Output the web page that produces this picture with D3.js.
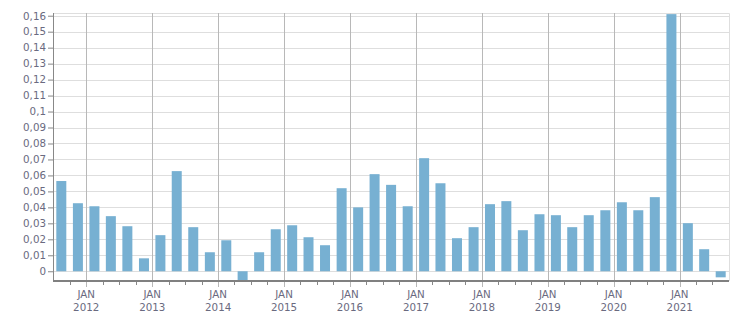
<!DOCTYPE html>
<html lang="en">
<head>
    <meta charset="UTF-8">
    <title>Quarterly bars</title>
    <script src="https://cdn.jsdelivr.net/npm/d3@7/dist/d3.min.js"></script>
    <style>
        body { margin: 0; background: #fff; }
        text { font-family: "DejaVu Sans", sans-serif; font-size: 10.3px; fill: #6a6a80; }
    </style>
</head>
<body>
<script>
    // quarter starts
    const quarters = [
        "2011-07", "2011-10",
        "2012-01", "2012-04", "2012-07", "2012-10",
        "2013-01", "2013-04", "2013-07", "2013-10",
        "2014-01", "2014-04", "2014-07", "2014-10",
        "2015-01", "2015-04", "2015-07", "2015-10",
        "2016-01", "2016-04", "2016-07", "2016-10",
        "2017-01", "2017-04", "2017-07", "2017-10",
        "2018-01", "2018-04", "2018-07", "2018-10",
        "2019-01", "2019-04", "2019-07", "2019-10",
        "2020-01", "2020-04", "2020-07", "2020-10",
        "2021-01", "2021-04", "2021-07"
    ];
    const values = [
        0.0565, 0.0426,
        0.0407, 0.0345, 0.0282, 0.0081,
        0.0226, 0.0627, 0.0276, 0.0119,
        0.0194, -0.0057, 0.0119, 0.0263,
        0.0288, 0.0213, 0.0163, 0.0520,
        0.0400, 0.0608, 0.0541, 0.0407,
        0.0708, 0.0551, 0.0207, 0.0276,
        0.0420, 0.0439, 0.0257, 0.0357,
        0.0351, 0.0276, 0.0351, 0.0382,
        0.0432, 0.0382, 0.0464, 0.1610,
        0.0301, 0.0138, -0.0038
    ];
    const yTicks = [0, 0.01, 0.02, 0.03, 0.04, 0.05, 0.06, 0.07, 0.08,
        0.09, 0.1, 0.11, 0.12, 0.13, 0.14, 0.15, 0.16];
    const years = [2012, 2013, 2014, 2015, 2016, 2017, 2018, 2019, 2020, 2021];

    const width = 751, height = 313;
    const margin = {top: 13, right: 22, bottom: 32, left: 53};
    const parse = d3.timeParse("%Y-%m");

    const svg = d3.select("body").append("svg")
        .attr("width", width)
        .attr("height", height);

    const x = d3.scaleTime()
        .domain([parse("2011-07"), parse("2021-10")])
        .range([margin.left, width - margin.right]);

    const y = d3.scaleLinear()
        .domain([-0.0061, 0.1617])
        .range([height - margin.bottom, margin.top]);

    const fmt = d => String(+d.toFixed(2)).replace(".", ",");

    // horizontal grid
    svg.append("g")
        .selectAll("line")
        .data(yTicks)
        .enter().append("line")
        .attr("x1", margin.left).attr("x2", width - margin.right)
        .attr("y1", d => Math.round(y(d)) + 0.5).attr("y2", d => Math.round(y(d)) + 0.5)
        .attr("stroke", "#dedede");

    // frame top / right
    svg.append("path")
        .attr("d", `M${margin.left},${margin.top + 0.5}H${width - margin.right + 0.5}V${height - margin.bottom}`)
        .attr("fill", "none")
        .attr("stroke", "#dedede");

    // vertical grid at JAN, extending below the axis as major ticks
    svg.append("g")
        .selectAll("line")
        .data(years)
        .enter().append("line")
        .attr("x1", d => Math.round(x(new Date(d, 0, 1))) + 0.5)
        .attr("x2", d => Math.round(x(new Date(d, 0, 1))) + 0.5)
        .attr("y1", margin.top)
        .attr("y2", height - margin.bottom + 6)
        .attr("stroke", "#b8b8b8");

    // bars
    svg.append("g")
        .selectAll("rect")
        .data(quarters.map((q, i) => ({start: parse(q), value: values[i]})))
        .enter().append("rect")
        .attr("x", d => (x(d.start) + x(d3.timeMonth.offset(d.start, 3))) / 2 - 5)
        .attr("width", 10)
        .attr("y", d => y(Math.max(0, d.value)))
        .attr("height", d => Math.abs(y(d.value) - y(0)))
        .attr("fill", "#77b0d2");

    // y axis
    const yAxis = svg.append("g")
        .attr("transform", `translate(${margin.left},0)`)
        .call(d3.axisLeft(y).tickValues(yTicks).tickFormat(fmt).tickSize(5).tickPadding(2));
    yAxis.select(".domain").remove();
    yAxis.selectAll(".tick line").attr("stroke", "#888");
    yAxis.selectAll("text").attr("fill", null);
    yAxis.attr("font-family", null).attr("font-size", null);
    svg.append("line")
        .attr("x1", margin.left + 0.5).attr("x2", margin.left + 0.5)
        .attr("y1", margin.top).attr("y2", height - margin.bottom)
        .attr("stroke", "#888");

    // x axis: minor quarter ticks
    svg.append("g")
        .selectAll("line")
        .data(quarters.slice(1).filter(q => !q.endsWith("-01")))
        .enter().append("line")
        .attr("x1", d => Math.round(x(parse(d))) + 0.5)
        .attr("x2", d => Math.round(x(parse(d))) + 0.5)
        .attr("y1", height - margin.bottom)
        .attr("y2", height - margin.bottom + 4)
        .attr("stroke", "#888");

    svg.append("line")
        .attr("x1", margin.left).attr("x2", width - margin.right)
        .attr("y1", height - margin.bottom).attr("y2", height - margin.bottom)
        .attr("stroke", "#808080")
        .attr("stroke-width", 2);

    const lab = svg.append("g")
        .selectAll("text")
        .data(years)
        .enter().append("text")
        .attr("text-anchor", "middle")
        .attr("x", d => x(new Date(d, 0, 1)));
    lab.append("tspan").attr("x", d => x(new Date(d, 0, 1))).attr("y", 298).text("JAN");
    lab.append("tspan").attr("x", d => x(new Date(d, 0, 1))).attr("y", 311).text(d => d);
</script>
</body>
</html>
